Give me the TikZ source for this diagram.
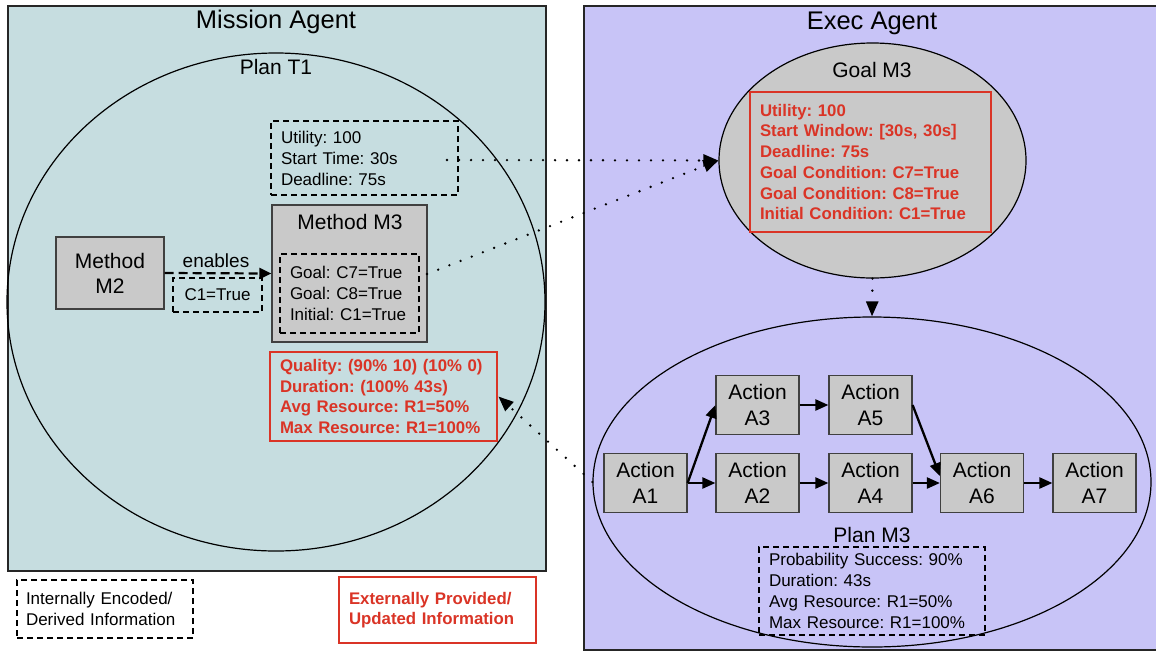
\documentclass[tikz,border=0pt]{standalone}
\usepackage{fontspec}
\setmainfont{Liberation Sans}
\usetikzlibrary{shapes.geometric,arrows.meta}
\definecolor{leftbg}{RGB}{198,221,224}
\definecolor{rightbg}{RGB}{200,196,247}
\definecolor{boxgray}{RGB}{201,201,201}
\definecolor{myred}{RGB}{218,52,38}
\tikzset{
 bodyf/.style={font=\fontsize{17}{21}\selectfont},
 bigf/.style={font=\fontsize{21}{25.5}\selectfont},
 titlef/.style={font=\fontsize{25.5}{28}\selectfont},
 panel/.style={draw=black!85, line width=1.5pt, anchor=north west, inner sep=0pt},
 dbox/.style={draw, dash pattern=on 6pt off 4pt, line width=1.8pt, inner xsep=10pt, inner ysep=0pt, align=left, bodyf},
 rbox/.style={draw=myred, line width=2.8pt, text=myred, inner xsep=10pt, inner ysep=0pt, align=left, font=\bfseries\fontsize{16.8}{20.7}\selectfont},
 gbox/.style={draw=black!75, fill=boxgray, line width=1.2pt, align=center, inner sep=0pt, bigf},
 action/.style={gbox, minimum width=83pt, minimum height=59pt},
 oval/.style={ellipse, draw=black, line width=1.2pt, inner sep=0pt},
 dotc/.style={line width=2.6pt, dash pattern=on 0pt off 12pt, line cap=round, -{Triangle[length=15pt,width=12pt]}},
 solidarr/.style={line width=2.3pt, -{Triangle[length=13pt,width=11pt]}},
 dasharr/.style={line width=2.2pt, dash pattern=on 9pt off 5pt, -{Triangle[length=12pt,width=11pt]}},
}
\begin{document}
\frenchspacing
\begin{tikzpicture}[x=1pt,y=-1pt]
\useasboundingbox (0,0) rectangle (1156,651);
\fill[white] (0,0) rectangle (1156,651);
% panels
\node[panel, fill=leftbg, minimum width=538pt, minimum height=565pt] (mission) at (7,5) {};
\node[panel, fill=rightbg, minimum width=580pt, minimum height=644pt] (exec) at (583,5) {};
\node[titlef] (missiont) at (276,22) {Mission Agent};
\node[titlef] (exect) at (872,23) {Exec Agent};
% Plan T1
\node[oval, minimum width=538pt, minimum height=498pt] (planT1) at (276,302) {};
\node[bigf] (planT1t) at (276,67) {Plan T1};
\node[dbox, minimum height=74pt, text width=167pt] (util) at (364.5,158) {Utility: 100\\Start Time: 30s\\Deadline: 75s};
\node[gbox, minimum width=155pt, minimum height=137pt] (m3) at (349.5,273.5) {};
\node[bigf] (m3t) at (350,222) {Method M3};
\node[dbox, minimum height=79pt, text width=119pt] (m3in) at (349.5,293.5) {Goal: C7=True\\Goal: C8=True\\Initial: C1=True};
\node[gbox, minimum width=108pt, minimum height=72pt, font=\fontsize{21}{25}\selectfont] (m2) at (110,273) {Method\\M2};
\node[dbox, align=center, minimum width=89pt, minimum height=34pt, inner xsep=0pt] (c1) at (217.5,295) {C1=True};
\node[font=\fontsize{19}{22}\selectfont] (enab) at (216,261) {enables};
\draw[dasharr] (m2.east) -- (m3.west);
\node[rbox, minimum height=89pt, text width=207pt] (qual) at (383.5,396.5) {Quality: (90\% 10) (10\% 0)\\Duration: (100\% 43s)\\Avg Resource: R1=50\%\\Max Resource: R1=100\%};
% legend
\node[dbox, minimum height=58pt, inner xsep=9pt, text width=158pt] (leg1) at (105,609) {Internally Encoded/\\Derived Information};
\node[rbox, minimum height=66pt, text width=177pt] (leg2) at (437.5,610) {Externally Provided/\\Updated Information};
% Goal M3
\node[oval, fill=boxgray, minimum width=307pt, minimum height=235pt] (goal) at (872.5,160.5) {};
\node[bigf] (goalt) at (872,70) {Goal M3};
\node[rbox, minimum height=140pt, text width=221pt] (goalr) at (870.5,162) {Utility: 100\\Start Window: [30s, 30s]\\Deadline: 75s\\Goal Condition: C7=True\\Goal Condition: C8=True\\Initial Condition: C1=True};
% Plan M3
\node[oval, minimum width=558pt, minimum height=330pt] (planM3) at (872,482) {};
\node[action] (a1) at (645.5,483) {Action\\A1};
\node[action] (a2) at (757.5,483) {Action\\A2};
\node[action] (a4) at (870.5,483) {Action\\A4};
\node[action] (a6) at (982,483) {Action\\A6};
\node[action] (a7) at (1094.5,483) {Action\\A7};
\node[action] (a3) at (757.5,405) {Action\\A3};
\node[action] (a5) at (870.5,405) {Action\\A5};
\draw[solidarr] (a1.east) -- (a2.west);
\draw[solidarr] (a1.east) -- (a3.west);
\draw[solidarr] (a3.east) -- (a5.west);
\draw[solidarr] (a2.east) -- (a4.west);
\draw[solidarr] (a4.east) -- (a6.west);
\draw[solidarr] (a6.east) -- (a7.west);
\draw[solidarr] (a5.east) -- ([yshift=7pt]a6.west);
\node[bigf] (planM3t) at (872,535) {Plan M3};
\node[dbox, minimum height=88pt, text width=206pt] (pm3) at (872,591) {Probability Success: 90\%\\Duration: 43s\\Avg Resource: R1=50\%\\Max Resource: R1=100\%};
% dotted connectors
\coordinate (ustart) at (447,160);
\coordinate (mstart) at (427,274);
\draw[dotc] (ustart) -- (goal.west);
\draw[dotc] (mstart) -- (goal.west);
\draw[dotc] (goal.south) -- (planM3.north);
\draw[dotc] (planM3.west) -- (qual.east);
\end{tikzpicture}
\end{document}
